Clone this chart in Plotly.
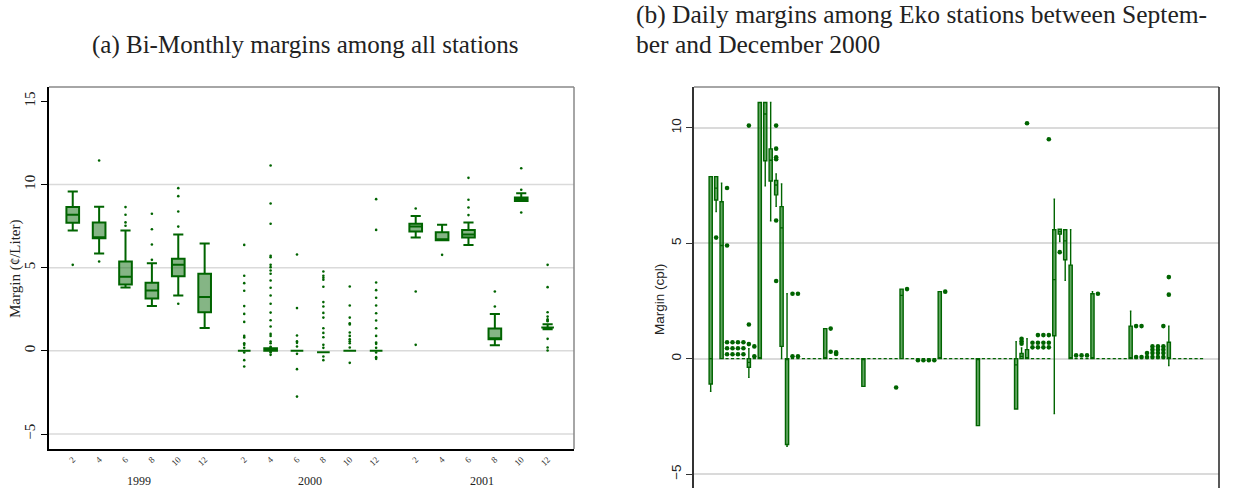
import plotly.graph_objects as go

# ---------------- Panel (a): bi-monthly margins ----------------
LEFT_YEARS = ["1999", "2000", "2001"]
LEFT_MONTH_LABELS = ["2", "4", "6", "8", "10", "12"]
LEFT_POS = [1, 2, 3, 4, 5, 6, 7.5, 8.5, 9.5, 10.5, 11.5, 12.5, 14, 15, 16, 17, 18, 19]
LEFT_YEAR_POS = [3.5, 10, 16.5]

LEFT_Q1 = [7.70, 6.77, 3.99, 3.15, 4.49, 2.32, 0.0, 0.0, 0.0, -0.08, 0.0, 0.0, 7.17, 6.65, 6.81, 0.70, 9.00, 1.40]
LEFT_MED = [8.18, 6.80, 4.45, 3.63, 5.17, 3.23, 0.0, 0.05, 0.0, -0.08, 0.0, 0.0, 7.47, 6.68, 7.00, 0.75, 9.12, 1.40]
LEFT_Q3 = [8.64, 7.72, 5.37, 4.09, 5.53, 4.63, 0.0, 0.15, 0.0, -0.08, 0.0, 0.0, 7.64, 7.13, 7.27, 1.34, 9.22, 1.40]
LEFT_LO = [7.23, 5.85, 3.81, 2.69, 3.33, 1.38, 0.0, 0.0, 0.0, -0.08, 0.0, 0.0, 6.81, 6.65, 6.37, 0.34, 9.00, 1.30]
LEFT_HI = [9.58, 8.66, 7.23, 5.27, 6.99, 6.45, 0.0, 0.15, 0.0, -0.08, 0.0, 0.0, 8.10, 7.58, 7.72, 2.22, 9.48, 1.60]
LEFT_OUT = [
    [5.17],
    [11.44, 5.37],
    [8.64, 8.18, 7.72, 7.52],
    [8.24, 7.31, 6.39, 5.47],
    [9.78, 9.30, 8.38, 7.47, 2.83],
    [],
    [6.37, 4.51, 4.07, 3.61, 2.69, 2.22, 1.74, 0.90, 0.80, 0.46, 0.36, 0.18, -0.10, -0.56, -0.94],
    [11.14, 8.86, 7.64, 5.71, 5.63, 5.17, 5.03, 4.83, 4.63, 4.23, 3.79, 3.33, 2.83, 2.30, 1.84, 1.46,
     1.02, 0.90, 0.56, 0.46, 0.25, 0.20, -0.05, -0.10, -0.24],
    [5.79, 2.57, 0.92, 0.58, 0.48, 0.26, -0.18, -1.10, -2.75],
    [4.77, 4.51, 4.39, 4.27, 3.85, 2.93, 2.67, 2.28, 2.00, 1.36, 1.08, 0.82, 0.36, 0.18, -0.34, -0.56],
    [3.87, 2.73, 2.00, 1.66, 1.58, 1.10, 0.90, 0.70, 0.58, 0.46, 0.20, -0.72],
    [9.12, 7.27, 4.11, 3.65, 3.19, 2.73, 2.26, 1.82, 1.36, 0.90, 0.50, 0.42, 0.18, -0.10, -0.38, -0.48],
    [8.56, 3.57, 0.36],
    [5.77],
    [10.40, 9.08, 8.62, 8.16],
    [3.57, 2.67],
    [10.98, 9.68, 8.32],
    [5.17, 3.83, 2.32, 2.06, 1.90, 1.84, 1.78, 0.72, 0.20, 0.02],
]

# ---------------- Panel (b): daily margins, Eko stations ----------------
N_DAYS = 91
# days with a non-degenerate box: day -> (q1, median, q3, lower whisker, upper whisker)
RIGHT_BOXES = {
    1: (-1.10, 0.00, 7.88, -1.41, 7.88),
    2: (6.87, 7.38, 7.88, 6.37, 7.88),
    3: (0.00, 4.90, 6.79, 0.00, 7.59),
    8: (-0.37, -0.16, 0.00, -0.81, 0.43),
    10: (0.00, 0.00, 11.09, 0.00, 11.09),
    11: (8.57, 10.59, 11.09, 7.48, 11.09),
    12: (7.69, 8.59, 9.08, 5.97, 11.09),
    13: (7.09, 7.52, 7.71, 6.59, 8.00),
    14: (0.53, 5.66, 6.58, 0.00, 7.56),
    15: (-3.72, 0.00, 0.00, -3.79, 2.81),
    22: (0.00, 0.00, 1.30, 0.00, 1.30),
    29: (-1.20, 0.00, 0.00, -1.20, 0.00),
    36: (0.00, 2.74, 3.01, 0.00, 3.01),
    43: (0.00, 0.00, 2.90, 0.00, 2.90),
    50: (-2.90, 0.00, 0.00, -2.90, 0.00),
    57: (-2.18, -0.27, 0.00, -2.18, 0.73),
    58: (0.00, 0.10, 0.22, 0.00, 0.46),
    59: (0.00, 0.00, 0.39, 0.00, 0.86),
    64: (0.99, 3.42, 5.58, -2.38, 6.90),
    65: (5.39, 5.50, 5.60, 5.07, 5.60),
    66: (4.28, 5.10, 5.58, 3.39, 5.58),
    67: (0.00, 0.00, 4.05, 0.00, 5.58),
    71: (0.00, 0.00, 2.81, 0.00, 2.90),
    78: (0.00, 0.00, 1.41, 0.00, 2.05),
    85: (0.00, 0.00, 0.71, -0.30, 1.41),
}
RIGHT_OUT = {
    2: [5.24],
    4: [7.39, 4.90, 0.71, 0.45, 0.19],
    5: [0.71, 0.45, 0.19],
    6: [0.71, 0.45, 0.19],
    7: [0.71, 0.45, 0.19],
    8: [10.09, 1.48, 0.63],
    9: [0.53, 0.10],
    13: [10.09, 9.09, 8.72, 8.63, 5.98, 3.36],
    16: [2.81, 0.10],
    17: [2.81, 0.10],
    23: [1.30, 0.30],
    24: [0.27, 0.20],
    35: [-1.25],
    37: [3.01],
    39: [-0.07], 40: [-0.07], 41: [-0.07], 42: [-0.07],
    44: [2.90],
    58: [0.86, 0.75, 0.65],
    59: [10.19],
    60: [0.69, 0.49],
    61: [1.02, 0.69, 0.49],
    62: [1.02, 0.69, 0.49],
    63: [9.50, 1.02, 0.69, 0.49],
    65: [4.61],
    68: [0.14], 69: [0.14], 70: [0.14],
    72: [2.81],
    79: [1.41, 0.07], 80: [1.41, 0.07],
    81: [0.24, 0.07],
    82: [0.53, 0.39, 0.24, 0.07],
    83: [0.53, 0.39, 0.24, 0.07],
    84: [1.41, 0.53, 0.39, 0.24, 0.07],
    85: [3.53, 2.77],
}

GREEN = "#006400"
SERIF = "Liberation Serif"
SANS = "Liberation Sans"

fig = go.Figure()

# ----- left boxes -----
fig.add_trace(go.Box(
    x=LEFT_POS, q1=LEFT_Q1, median=LEFT_MED, q3=LEFT_Q3,
    lowerfence=LEFT_LO, upperfence=LEFT_HI,
    boxpoints=False, width=0.48, whiskerwidth=0.8,
    line=dict(color=GREEN, width=2), fillcolor="rgba(0,100,0,0.48)",
    xaxis="x", yaxis="y", showlegend=False, hoverinfo="skip",
))
lx, ly = [], []
for p, outs in zip(LEFT_POS, LEFT_OUT):
    lx += [p] * len(outs)
    ly += outs
fig.add_trace(go.Scatter(
    x=lx, y=ly, mode="markers", marker=dict(color=GREEN, size=2.6),
    xaxis="x", yaxis="y", showlegend=False, hoverinfo="skip",
))

# ----- right boxes -----
days = list(range(1, N_DAYS + 1))
rq1, rmed, rq3, rlo, rhi = [], [], [], [], []
for d in days:
    s = RIGHT_BOXES.get(d, (0, 0, 0, 0, 0))
    rq1.append(s[0]); rmed.append(s[1]); rq3.append(s[2]); rlo.append(s[3]); rhi.append(s[4])
fig.add_trace(go.Box(
    x=days, q1=rq1, median=rmed, q3=rq3, lowerfence=rlo, upperfence=rhi,
    boxpoints=False, width=0.58, whiskerwidth=0.5,
    line=dict(color=GREEN, width=1.4), fillcolor="rgba(0,110,0,0.62)",
    xaxis="x2", yaxis="y2", showlegend=False, hoverinfo="skip",
))
rx, ry = [], []
for d, outs in RIGHT_OUT.items():
    rx += [d] * len(outs)
    ry += outs
fig.add_trace(go.Scatter(
    x=rx, y=ry, mode="markers", marker=dict(color=GREEN, size=4.6),
    xaxis="x2", yaxis="y2", showlegend=False, hoverinfo="skip",
))

W, H = 1244, 488
LX0, LX1, LY0, LY1 = 49, 574, 87, 449
RX0, RX1, RY0 = 694, 1219, 87

shapes = []
for g in [-5, 0, 5, 10]:
    shapes.append(dict(type="line", xref="x domain", yref="y", x0=0, x1=1, y0=g, y1=g,
                       line=dict(color="#dadada", width=1.5), layer="below"))
# frames
shapes += [
    dict(type="line", xref="x domain", yref="y domain", x0=0, x1=1, y0=1, y1=1,
         line=dict(color="#888888", width=1.5)),
    dict(type="line", xref="x domain", yref="y domain", x0=1, x1=1, y0=0, y1=1,
         line=dict(color="#888888", width=1.5)),
    dict(type="line", xref="x2 domain", yref="y2 domain", x0=0, x1=1, y0=1, y1=1,
         line=dict(color="#888888", width=1.5)),
    dict(type="line", xref="x2 domain", yref="y2 domain", x0=1, x1=1, y0=0, y1=1,
         line=dict(color="#222222", width=1.5)),
]

annotations = []
for yr, p in zip(LEFT_YEARS, LEFT_YEAR_POS):
    annotations.append(dict(text=yr, x=p, xref="x", y=1 - 481 / H, yref="paper",
                            xanchor="center", yanchor="middle",
                            showarrow=False, font=dict(family=SERIF, size=12, color="#222")))
annotations += [
    dict(text="(a) Bi-Monthly margins among all stations", x=305 / W, y=1 - 45 / H,
         xref="paper", yref="paper", xanchor="center", yanchor="middle", showarrow=False,
         font=dict(family=SERIF, size=25, color="#222")),
    dict(text="(b) Daily margins among Eko stations between Septem-", x=634 / W, y=1 - 15 / H,
         xref="paper", yref="paper", xanchor="left", yanchor="middle", showarrow=False,
         font=dict(family=SERIF, size=25.5, color="#222")),
    dict(text="ber and December 2000", x=634 / W, y=1 - 45 / H,
         xref="paper", yref="paper", xanchor="left", yanchor="middle", showarrow=False,
         font=dict(family=SERIF, size=25.5, color="#222")),
    dict(text="Margin (¢/Liter)", x=15 / W, y=1 - 269 / H, xref="paper", yref="paper",
         xanchor="center", yanchor="middle",
         textangle=-90, showarrow=False, font=dict(family=SERIF, size=15, color="#222")),
    dict(text="Margin (cpl)", x=659 / W, y=1 - 300 / H, xref="paper", yref="paper",
         xanchor="center", yanchor="middle",
         textangle=-90, showarrow=False, font=dict(family=SANS, size=13.5, color="#222")),
]

fig.update_layout(
    width=W, height=H, margin=dict(l=0, r=0, t=0, b=0),
    paper_bgcolor="white", plot_bgcolor="white",
    xaxis=dict(domain=[LX0 / W, LX1 / W], range=[0.1, 20], anchor="y",
               tickvals=LEFT_POS, ticktext=LEFT_MONTH_LABELS * 3, tickangle=-45,
               tickfont=dict(family=SERIF, size=9, color="#333"), ticks="",
               showgrid=False, zeroline=False, showline=True, linecolor="black", linewidth=1.5),
    yaxis=dict(domain=[1 - LY1 / H, 1 - LY0 / H], range=[-5.9, 15.86], anchor="x",
               tickvals=[-5, 0, 5, 10, 15], tickangle=-90,
               tickfont=dict(family=SERIF, size=15, color="#222"), ticks="outside",
               ticklen=6, tickcolor="black", showgrid=False, zeroline=False,
               showline=True, linecolor="black", linewidth=1.5),
    xaxis2=dict(domain=[RX0 / W, RX1 / W], range=[-2.06, 94.2], anchor="y2",
                showticklabels=False, ticks="", showgrid=False, zeroline=False, showline=False),
    yaxis2=dict(domain=[0, 1 - RY0 / H], range=[-5.6, 11.76], anchor="x2",
                tickvals=[-5, 0, 5, 10], tickangle=-90,
                tickfont=dict(family=SANS, size=13.5, color="#222"), ticks="outside",
                ticklen=6, tickcolor="#333", showgrid=True, gridcolor="#dadada", gridwidth=1.5,
                zeroline=False, showline=True, linecolor="#333", linewidth=1.5),
    shapes=shapes, annotations=annotations, boxmode="overlay",
)

fig.write_html("out.html")
